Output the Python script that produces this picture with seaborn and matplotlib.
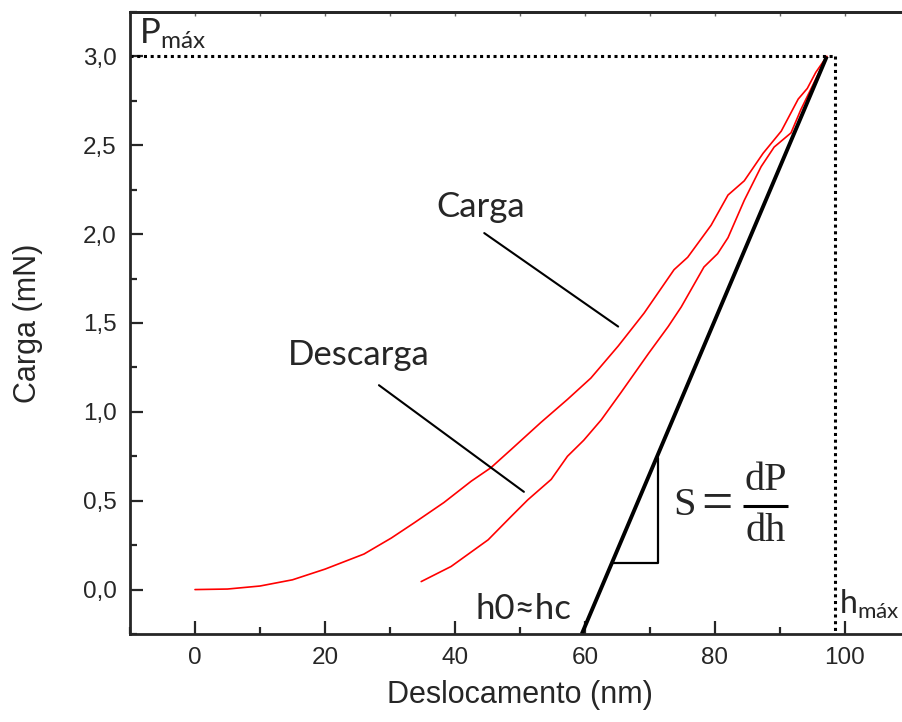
import numpy as np
import pandas as pd
import seaborn as sns
import matplotlib.pyplot as plt
from matplotlib.ticker import MultipleLocator, FuncFormatter

# ==================================
# Data
# ==================================

carga_x = [0, 5, 10, 15, 20, 26, 30.2, 33.7, 38.3, 42.5, 45.5, 48.6, 53.2, 57.3,
           60.9, 65.1, 69.1, 73.7, 75.8, 79.4, 82, 84.5, 87.4, 90.2, 92.8, 94.2,
           95.5, 97.2]
carga_y = [0, 0.003, 0.02, 0.055, 0.115, 0.2, 0.29, 0.375, 0.49, 0.61, 0.685, 0.787,
           0.94, 1.07, 1.19, 1.37, 1.556, 1.80, 1.87, 2.05, 2.22, 2.30, 2.455, 2.58,
           2.76, 2.82, 2.91, 3.0]

descarga_x = [34.8, 39.4, 45.1, 48.6, 51.2, 54.8, 57.3, 59.8, 62.5, 65.5, 69.8, 72.8,
              74.8, 78.3, 80.4, 82, 84.5, 87.1, 89.1, 91.7, 93.2, 95.2, 97.2]
descarga_y = [0.045, 0.13, 0.28, 0.41, 0.505, 0.62, 0.75, 0.84, 0.955, 1.107, 1.33,
              1.48, 1.59, 1.815, 1.89, 1.98, 2.19, 2.38, 2.49, 2.57, 2.70, 2.85, 3.0]

# tangent (stiffness S) through the peak
tangente_x = [59.5, 97.2]
tangente_y = [-0.25, 3.0]

# slope triangle
triangulo_x = [64.3, 71.2, 71.2]
triangulo_y = [0.152, 0.152, 0.742]

p_max = 3.0
h_max = 98.4

# pointer lines for the labels
seta_carga_x = [44.5, 65.1]
seta_carga_y = [2.006, 1.48]
seta_descarga_x = [28.3, 50.6]
seta_descarga_y = [1.15, 0.55]

df_carga = pd.DataFrame({'x': carga_x, 'y': carga_y})
df_descarga = pd.DataFrame({'x': descarga_x, 'y': descarga_y})

# ==================================
# Style
# ==================================

sns.set_style('ticks')
plt.rcParams['font.family'] = ['Liberation Sans', 'DejaVu Sans']
plt.rcParams['mathtext.fontset'] = 'custom'
plt.rcParams['mathtext.rm'] = 'Lato'
plt.rcParams['mathtext.it'] = 'Lato:italic'

anno_font = ['Lato', 'DejaVu Sans']
serif_font = ['Liberation Serif', 'DejaVu Serif']

fig = plt.figure(figsize=(9.02, 7.22), dpi=100)
ax = fig.add_axes([130 / 902, 88 / 722, 780 / 902, 622 / 722])

# ==================================
# Curves
# ==================================

sns.lineplot(x='x', y='y', data=df_carga, ax=ax, color='red', lw=1.2,
             sort=False, estimator=None)
sns.lineplot(x='x', y='y', data=df_descarga, ax=ax, color='red', lw=1.2,
             sort=False, estimator=None)

ax.plot(tangente_x, tangente_y, color='black', lw=2.8, solid_capstyle='butt')
ax.plot(triangulo_x, triangulo_y, color='black', lw=1.6)

ax.plot([-10, h_max], [p_max, p_max], color='black', lw=2.2, ls=(0, (1, 1.2)))
ax.plot([h_max, h_max], [p_max, -0.25], color='black', lw=2.2, ls=(0, (1, 1.2)))

ax.plot(seta_carga_x, seta_carga_y, color='black', lw=1.5)
ax.plot(seta_descarga_x, seta_descarga_y, color='black', lw=1.5)

# ==================================
# Annotations
# ==================================

ax.text(37.1, 2.095, 'Carga', fontsize=25, family=anno_font)
ax.text(14.3, 1.264, 'Descarga', fontsize=25, family=anno_font)
ax.text(43.2, -0.163, 'h0≈hc', fontsize=25, family=anno_font)
ax.text(-8.6, 3.07, 'P$_{\\mathrm{máx}}$', fontsize=25, family=anno_font,
        math_fontfamily='custom')
ax.text(99.1, -0.135, 'h$_{\\mathrm{máx}}$', fontsize=23, family=anno_font,
        math_fontfamily='custom', clip_on=False)

# S = dP/dh built from pieces so every part keeps full size
ax.text(73.5, 0.472, 'S', fontsize=29, family=serif_font, ha='left', va='center')
ax.text(80.3, 0.472, '=', fontsize=40, family=serif_font, ha='center', va='center')
ax.plot([84.3, 91.2], [0.472, 0.472], color='black', lw=2.2, solid_capstyle='butt')
ax.text(87.75, 0.51, 'dP', fontsize=29, family=serif_font, ha='center', va='bottom')
ax.text(87.75, 0.43, 'dh', fontsize=29, family=serif_font, ha='center', va='top')

# ==================================
# Axes
# ==================================

ax.set_xlim(-10, 110)
ax.set_ylim(-0.25, 3.25)
ax.xaxis.set_major_locator(MultipleLocator(20))
ax.xaxis.set_minor_locator(MultipleLocator(10))
ax.yaxis.set_major_locator(MultipleLocator(0.5))
ax.yaxis.set_minor_locator(MultipleLocator(0.25))
ax.yaxis.set_major_formatter(FuncFormatter(lambda v, p: f'{v:.1f}'.replace('.', ',')))

ax.tick_params(which='major', direction='in', length=9.5, width=1.6,
               labelsize=17.5, pad=9.5)
ax.tick_params(which='minor', direction='in', length=5, width=1.6)
for s in ax.spines.values():
    s.set_linewidth(2)

top = ax.secondary_xaxis('top')
top.set_xticks(np.arange(-10, 111, 10))
top.tick_params(direction='in', length=3, width=1, labeltop=False, color='0.4')
top.spines['top'].set_linewidth(2)

ax.set_xlabel('Deslocamento (nm)', fontsize=22, labelpad=8)
ax.set_ylabel('Carga (mN)', fontsize=22, labelpad=29)

plt.savefig('out.png', dpi=100)
